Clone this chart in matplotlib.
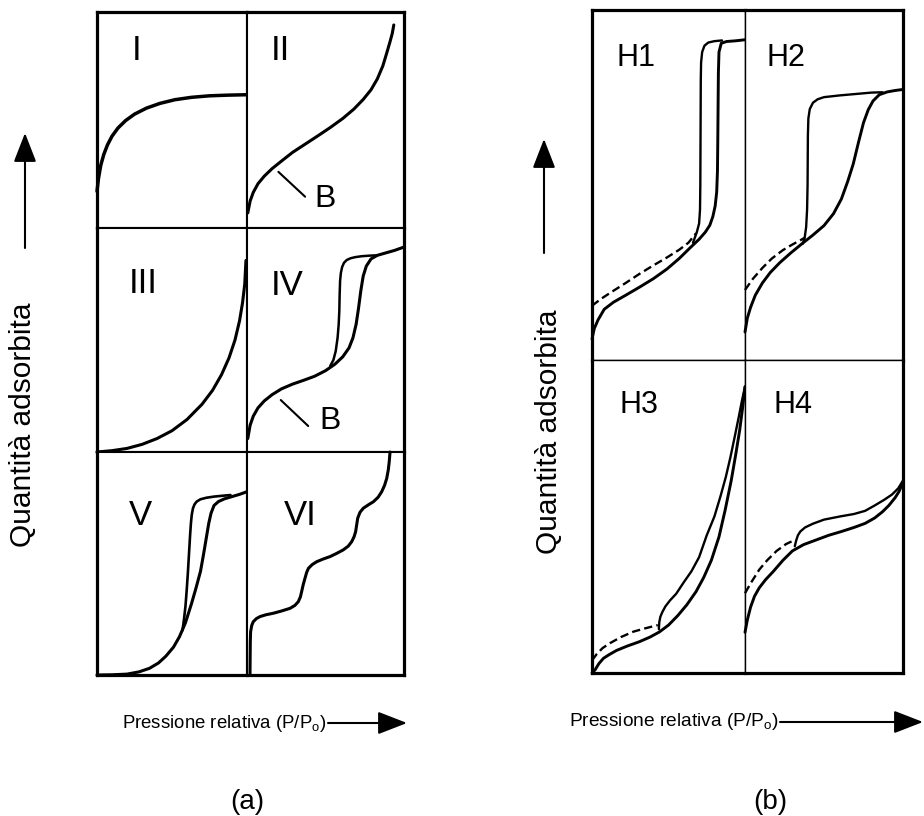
import matplotlib
matplotlib.use('Agg')
import matplotlib.pyplot as plt
from matplotlib.patches import FancyArrowPatch

plt.rcParams['font.family'] = ['Liberation Sans', 'DejaVu Sans']
plt.rcParams['mathtext.fontset'] = 'custom'
plt.rcParams['mathtext.rm'] = 'Liberation Sans'

# ---- data (relative pressure, amount adsorbed), each cell scaled 0..1 ----
typeI_x = [0.0, 0.01, 0.025, 0.045, 0.07, 0.1, 0.14, 0.19, 0.25, 0.33, 0.42, 0.52, 0.63, 0.75, 0.87, 1.0]
typeI_y = [0.17, 0.23, 0.29, 0.34, 0.385, 0.425, 0.463, 0.497, 0.527, 0.555, 0.577, 0.594, 0.605, 0.612, 0.615, 0.617]

typeII_x = [0.005, 0.02, 0.04, 0.07, 0.11, 0.16, 0.22, 0.29, 0.37, 0.45, 0.53, 0.61, 0.68, 0.74, 0.79, 0.83, 0.865, 0.89, 0.91, 0.925, 0.935]
typeII_y = [0.07, 0.125, 0.165, 0.205, 0.24, 0.275, 0.31, 0.35, 0.388, 0.426, 0.465, 0.507, 0.55, 0.595, 0.64, 0.69, 0.75, 0.81, 0.86, 0.9, 0.94]

typeIII_x = [0.0, 0.1, 0.2, 0.3, 0.4, 0.5, 0.6, 0.7, 0.77, 0.83, 0.88, 0.92, 0.95, 0.97, 0.985, 0.993]
typeIII_y = [0.0, 0.006, 0.016, 0.034, 0.06, 0.095, 0.145, 0.213, 0.275, 0.345, 0.42, 0.5, 0.585, 0.665, 0.75, 0.855]

typeIV_ads_x = [0.005, 0.02, 0.04, 0.07, 0.11, 0.16, 0.22, 0.29, 0.36, 0.43, 0.5, 0.56, 0.61, 0.65, 0.675, 0.695, 0.71, 0.725, 0.74, 0.76, 0.79, 0.83, 0.88, 0.94, 1.0]
typeIV_ads_y = [0.06, 0.12, 0.16, 0.197, 0.228, 0.256, 0.282, 0.303, 0.32, 0.338, 0.363, 0.392, 0.425, 0.465, 0.51, 0.57, 0.64, 0.72, 0.785, 0.83, 0.862, 0.878, 0.888, 0.9, 0.915]
typeIV_des_x = [0.53, 0.55, 0.565, 0.577, 0.584, 0.588, 0.59, 0.593, 0.598, 0.606, 0.618, 0.635, 0.66, 0.69, 0.73, 0.79, 0.83]
typeIV_des_y = [0.384, 0.41, 0.45, 0.51, 0.57, 0.63, 0.7, 0.765, 0.8, 0.826, 0.845, 0.857, 0.865, 0.87, 0.874, 0.877, 0.878]

typeV_ads_x = [0.0, 0.1, 0.2, 0.28, 0.35, 0.41, 0.46, 0.51, 0.55, 0.59, 0.63, 0.66, 0.69, 0.71, 0.73, 0.745, 0.76, 0.78, 0.81, 0.85, 0.9, 0.95, 1.0]
typeV_ads_y = [0.0, 0.001, 0.004, 0.014, 0.03, 0.054, 0.085, 0.125, 0.172, 0.235, 0.32, 0.39, 0.465, 0.54, 0.62, 0.68, 0.725, 0.76, 0.778, 0.79, 0.8, 0.81, 0.822]
typeV_des_x = [0.57, 0.58, 0.59, 0.598, 0.606, 0.613, 0.62, 0.626, 0.632, 0.64, 0.65, 0.665, 0.69, 0.73, 0.78, 0.84, 0.89]
typeV_des_y = [0.2, 0.25, 0.31, 0.38, 0.46, 0.54, 0.62, 0.68, 0.72, 0.748, 0.765, 0.778, 0.788, 0.795, 0.8, 0.804, 0.807]

typeVI_x = [0.019, 0.02, 0.021, 0.023, 0.03, 0.04, 0.06, 0.083, 0.12, 0.168, 0.22, 0.274, 0.305, 0.327, 0.34,
            0.348, 0.358, 0.369, 0.38, 0.391, 0.415, 0.444, 0.485, 0.529, 0.57, 0.613, 0.645, 0.667, 0.682,
            0.692, 0.699, 0.705, 0.72, 0.741, 0.775, 0.805, 0.835, 0.858, 0.876, 0.89, 0.9, 0.906, 0.911]
typeVI_y = [0.0, 0.08, 0.15, 0.194, 0.222, 0.239, 0.253, 0.262, 0.27, 0.277, 0.287, 0.299, 0.312, 0.329, 0.35,
            0.374, 0.405, 0.433, 0.46, 0.478, 0.495, 0.508, 0.52, 0.531, 0.545, 0.561, 0.578, 0.598, 0.62,
            0.643, 0.675, 0.703, 0.73, 0.748, 0.764, 0.777, 0.797, 0.822, 0.85, 0.882, 0.92, 0.957, 1.0]

# point B markers (types II and IV)
bII_x = [0.2, 0.37]
bII_y = [0.26, 0.145]
bIV_x = [0.215, 0.39]
bIV_y = [0.232, 0.116]

# hysteresis loops H1-H4: adsorption, desorption, dashed low-pressure branch
h1_ads_x = [0.0, 0.015, 0.04, 0.08, 0.14, 0.22, 0.31, 0.4, 0.49, 0.57, 0.64, 0.7, 0.74, 0.77, 0.79, 0.805, 0.815, 0.82, 0.822, 0.824, 0.826, 0.83, 0.845, 0.88, 0.94, 1.0]
h1_ads_y = [0.06, 0.09, 0.115, 0.145, 0.165, 0.185, 0.208, 0.232, 0.26, 0.29, 0.32, 0.345, 0.365, 0.385, 0.41, 0.44, 0.48, 0.54, 0.62, 0.72, 0.82, 0.88, 0.905, 0.91, 0.912, 0.915]
h1_des_x = [0.66, 0.685, 0.7, 0.706, 0.708, 0.709, 0.71, 0.711, 0.713, 0.72, 0.735, 0.76, 0.8, 0.85]
h1_des_y = [0.335, 0.365, 0.39, 0.43, 0.5, 0.6, 0.7, 0.8, 0.85, 0.88, 0.898, 0.907, 0.911, 0.913]
h1_dash_x = [0.0, 0.06, 0.13, 0.22, 0.31, 0.4, 0.49, 0.57, 0.63, 0.68]
h1_dash_y = [0.155, 0.175, 0.195, 0.22, 0.246, 0.27, 0.293, 0.315, 0.335, 0.362]

h2_ads_x = [0.0, 0.015, 0.035, 0.065, 0.11, 0.16, 0.22, 0.29, 0.36, 0.43, 0.5, 0.56, 0.61, 0.65, 0.685, 0.72, 0.75, 0.78, 0.81, 0.85, 0.9, 0.95, 1.0]
h2_ads_y = [0.08, 0.12, 0.15, 0.185, 0.22, 0.25, 0.278, 0.306, 0.332, 0.357, 0.384, 0.418, 0.46, 0.51, 0.56, 0.625, 0.678, 0.715, 0.74, 0.758, 0.766, 0.77, 0.773]
h2_des_x = [0.365, 0.378, 0.387, 0.393, 0.396, 0.397, 0.398, 0.401, 0.41, 0.43, 0.46, 0.5, 0.6, 0.7, 0.8, 0.87]
h2_des_y = [0.332, 0.35, 0.38, 0.43, 0.5, 0.57, 0.64, 0.69, 0.717, 0.735, 0.745, 0.751, 0.756, 0.76, 0.764, 0.765]
h2_dash_x = [0.0, 0.05, 0.11, 0.17, 0.24, 0.3, 0.35, 0.38]
h2_dash_y = [0.2, 0.232, 0.263, 0.29, 0.314, 0.33, 0.342, 0.35]

h3_ads_x = [0.0, 0.02, 0.045, 0.075, 0.11, 0.16, 0.23, 0.31, 0.38, 0.44, 0.5, 0.56, 0.62, 0.68, 0.73, 0.78, 0.83, 0.87, 0.91, 0.94, 0.965, 0.985, 1.0]
h3_ads_y = [0.0, 0.01, 0.03, 0.047, 0.058, 0.072, 0.086, 0.1, 0.115, 0.131, 0.153, 0.183, 0.218, 0.26, 0.305, 0.36, 0.435, 0.52, 0.615, 0.7, 0.775, 0.85, 0.915]
h3_des_x = [1.0, 0.98, 0.96, 0.935, 0.905, 0.875, 0.84, 0.8, 0.75, 0.7, 0.65, 0.6, 0.55, 0.51, 0.48, 0.46, 0.447, 0.44, 0.437]
h3_des_y = [0.915, 0.87, 0.82, 0.76, 0.69, 0.627, 0.565, 0.5, 0.44, 0.37, 0.325, 0.29, 0.253, 0.232, 0.213, 0.195, 0.18, 0.163, 0.14]
h3_dash_x = [0.0, 0.03, 0.07, 0.12, 0.19, 0.27, 0.35, 0.43]
h3_dash_y = [0.04, 0.06, 0.08, 0.096, 0.115, 0.132, 0.143, 0.153]

h4_ads_x = [0.0, 0.015, 0.035, 0.06, 0.09, 0.13, 0.18, 0.24, 0.3, 0.37, 0.45, 0.53, 0.61, 0.69, 0.76, 0.82, 0.87, 0.91, 0.95, 0.975, 1.0]
h4_ads_y = [0.13, 0.17, 0.21, 0.245, 0.272, 0.298, 0.325, 0.36, 0.39, 0.41, 0.425, 0.44, 0.452, 0.465, 0.478, 0.495, 0.515, 0.535, 0.56, 0.58, 0.61]
h4_des_x = [1.0, 0.97, 0.93, 0.88, 0.82, 0.76, 0.69, 0.6, 0.5, 0.43, 0.38, 0.35, 0.335, 0.325, 0.315]
h4_des_y = [0.615, 0.59, 0.57, 0.553, 0.535, 0.518, 0.508, 0.5, 0.49, 0.477, 0.465, 0.452, 0.44, 0.425, 0.405]
h4_dash_x = [0.0, 0.04, 0.09, 0.14, 0.2, 0.26, 0.315]
h4_dash_y = [0.255, 0.29, 0.33, 0.36, 0.39, 0.412, 0.425]

# ---- layout (pixels) ----
W, H = 924, 816
A_X = [97, 247, 404]
A_Y = [12, 228, 452, 675]
B_X = [592, 745, 903]
B_Y = [10, 360, 673]

fig = plt.figure(figsize=(W / 100, H / 100), dpi=100)


def cell(x0, x1, y0, y1, outer, lw_out, lw_in):
    ax = fig.add_axes([x0 / W, 1 - y1 / H, (x1 - x0) / W, (y1 - y0) / H])
    ax.set_xlim(0, 1)
    ax.set_ylim(0, 1)
    ax.set_xticks([])
    ax.set_yticks([])
    for side in ['left', 'right', 'top', 'bottom']:
        ax.spines[side].set_linewidth(lw_out if side in outer else lw_in)
    return ax


def curve(ax, x, y, lw=2.2, ls='-'):
    ax.plot(x, y, color='black', lw=lw, ls=ls, clip_on=False,
            solid_capstyle='round', solid_joinstyle='round')


def label(ax, x, y, s, size=25):
    ax.text(x, y, s, fontsize=size, ha='center', va='center')


# panel (a)
axI = cell(A_X[0], A_X[1], A_Y[0], A_Y[1], ['left', 'top'], 2.3, 1.5)
axII = cell(A_X[1], A_X[2], A_Y[0], A_Y[1], ['right', 'top'], 2.3, 1.5)
axIII = cell(A_X[0], A_X[1], A_Y[1], A_Y[2], ['left'], 2.3, 1.5)
axIV = cell(A_X[1], A_X[2], A_Y[1], A_Y[2], ['right'], 2.3, 1.5)
axV = cell(A_X[0], A_X[1], A_Y[2], A_Y[3], ['left', 'bottom'], 2.3, 1.5)
axVI = cell(A_X[1], A_X[2], A_Y[2], A_Y[3], ['right', 'bottom'], 2.3, 1.5)

curve(axI, typeI_x, typeI_y, lw=2.5)
curve(axII, typeII_x, typeII_y)
curve(axII, bII_x, bII_y, lw=1.5)
curve(axIII, typeIII_x, typeIII_y)
curve(axIV, typeIV_ads_x, typeIV_ads_y)
curve(axIV, typeIV_des_x, typeIV_des_y, lw=1.8)
curve(axIV, bIV_x, bIV_y, lw=1.5)
curve(axV, typeV_ads_x, typeV_ads_y)
curve(axV, typeV_des_x, typeV_des_y, lw=1.9)
curve(axVI, typeVI_x, typeVI_y)

label(axI, 0.264, 0.824, 'I')
label(axII, 0.215, 0.824, 'II')
label(axII, 0.497, 0.136, 'B', 23)
label(axIII, 0.309, 0.753, 'III')
label(axIV, 0.253, 0.745, 'IV')
label(axIV, 0.529, 0.14, 'B', 23)
label(axV, 0.287, 0.717, 'V')
label(axVI, 0.338, 0.717, 'VI')

# panel (b)
axH1 = cell(B_X[0], B_X[1], B_Y[0], B_Y[1], ['left', 'top'], 2.3, 1.0)
axH2 = cell(B_X[1], B_X[2], B_Y[0], B_Y[1], ['right', 'top'], 2.3, 1.0)
axH3 = cell(B_X[0], B_X[1], B_Y[1], B_Y[2], ['left', 'bottom'], 2.3, 1.0)
axH4 = cell(B_X[1], B_X[2], B_Y[1], B_Y[2], ['right', 'bottom'], 2.3, 1.0)

dash = (0, (3.5, 1.8))
for ax, ax_x, ax_y, de_x, de_y, da_x, da_y in [
        (axH1, h1_ads_x, h1_ads_y, h1_des_x, h1_des_y, h1_dash_x, h1_dash_y),
        (axH2, h2_ads_x, h2_ads_y, h2_des_x, h2_des_y, h2_dash_x, h2_dash_y),
        (axH3, h3_ads_x, h3_ads_y, h3_des_x, h3_des_y, h3_dash_x, h3_dash_y),
        (axH4, h4_ads_x, h4_ads_y, h4_des_x, h4_des_y, h4_dash_x, h4_dash_y)]:
    curve(ax, ax_x, ax_y, lw=2.1)
    curve(ax, de_x, de_y, lw=1.7)
    curve(ax, da_x, da_y, lw=1.7, ls=dash)

label(axH1, 0.286, 0.862, 'H1', 22)
label(axH2, 0.257, 0.862, 'H2', 22)
label(axH3, 0.307, 0.856, 'H3', 22)
label(axH4, 0.302, 0.856, 'H4', 22)


# ---- axis captions and arrows ----
def arrow(x0, y0, x1, y1):
    fig.add_artist(FancyArrowPatch((x0 / W, 1 - y0 / H), (x1 / W, 1 - y1 / H),
                                   transform=fig.transFigure,
                                   arrowstyle='-|>,head_length=0.9,head_width=0.35',
                                   mutation_scale=20, lw=1.5, color='black',
                                   shrinkA=0, shrinkB=0))


def ftext(x, y, s, **kw):
    fig.text(x / W, 1 - y / H, s, **kw)


ylab = 'Quantità adsorbita'
xlab = r'Pressione relativa (P/P$_{\mathrm{o}}$)'

ftext(23, 425, ylab, rotation=90, fontsize=21.5, ha='center', va='center')
arrow(25, 248, 25, 133)
ftext(327, 723, xlab, fontsize=13.4, ha='right', va='center')
arrow(328, 723, 407, 723)
ftext(247, 802, '(a)', fontsize=20, ha='center', va='center')

ftext(549, 432, ylab, rotation=90, fontsize=21.5, ha='center', va='center')
arrow(544, 253, 544, 139)
ftext(779, 722, xlab, fontsize=13.8, ha='right', va='center')
arrow(780, 722, 923, 722)
ftext(770, 802, '(b)', fontsize=20, ha='center', va='center')

fig.savefig('out.png', dpi=100)
